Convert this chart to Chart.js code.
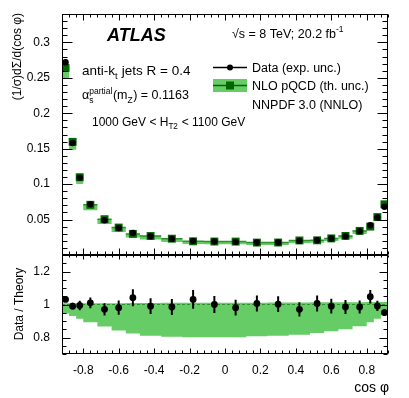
<!DOCTYPE html>
<html><head><meta charset="utf-8">
<script src="https://cdn.jsdelivr.net/npm/chart.js@4"></script>
<style>
html,body{margin:0;padding:0;background:#fff;}
#wrap{position:relative;width:409px;height:398px;}
canvas{position:absolute;left:0;top:0;}
</style></head><body>
<div id="wrap"><canvas id="top" width="409" height="398"></canvas><canvas id="bot" width="409" height="398"></canvas></div>
<script>
// ---------- data ----------
const binEdges = [-0.92,-0.88,-0.84,-0.80,-0.72,-0.64,-0.56,-0.48,-0.36,-0.24,-0.12,0,0.12,0.24,0.36,0.48,0.56,0.64,0.72,0.80,0.84,0.88,0.92];
const binCenters = [-0.90,-0.86,-0.82,-0.76,-0.68,-0.60,-0.52,-0.42,-0.30,-0.18,-0.06,0.06,0.18,0.30,0.42,0.52,0.60,0.68,0.76,0.82,0.86,0.90];
const dataValues = [0.272,0.158,0.109,0.0715,0.049,0.038,0.031,0.0265,0.0227,0.0199,0.019,0.0185,0.0176,0.0176,0.0199,0.0208,0.0232,0.0265,0.0335,0.042,0.053,0.068];
const dataErrors = [0.0044,0.0032,0.0032,0.0024,0.0018,0.0016,0.0016,0.0013,0.0011,0.0011,0.0010,0.0009,0.0009,0.0008,0.0009,0.0010,0.0010,0.0011,0.0013,0.0017,0.0016,0.0014];
const theoryValues = [0.2638,0.1596,0.1097,0.0708,0.0505,0.0387,0.0298,0.0268,0.0230,0.0193,0.0190,0.0189,0.0175,0.0176,0.0205,0.0207,0.0234,0.0269,0.0340,0.0401,0.0535,0.0715];
const theoryRelLow = [0.945,0.930,0.914,0.893,0.866,0.842,0.825,0.811,0.805,0.801,0.801,0.801,0.807,0.811,0.817,0.828,0.838,0.850,0.868,0.893,0.914,0.934];
const theoryRelHigh = [1.008,1.008,1.008,1.008,1.008,1.008,1.009,1.009,1.010,1.010,1.010,1.011,1.011,1.012,1.012,1.013,1.013,1.014,1.014,1.015,1.015,1.015];
const ratioValues = [1.031,0.990,0.994,1.010,0.971,0.981,1.041,0.990,0.985,1.031,1.000,0.981,1.006,1.002,0.971,1.006,0.990,0.985,0.985,1.047,0.991,0.951];
const ratioErrors = [0.016,0.020,0.029,0.033,0.037,0.043,0.051,0.048,0.049,0.057,0.051,0.048,0.049,0.048,0.043,0.049,0.045,0.043,0.039,0.041,0.031,0.020];
const xTickValues = [-0.8,-0.6,-0.4,-0.2,0,0.2,0.4,0.6,0.8];
const yTopTickValues = [0.05,0.1,0.15,0.2,0.25,0.3];
const yRatioTickValues = [0.8,1,1.2];

// ---------- style ----------
const FONT = "'Liberation Sans', Arial, Helvetica, sans-serif";
const GREEN_LIGHT = '#66cc66';
const GREEN_DARK = '#006600';
const GREEN_LINE = '#2f8f2f';
Chart.defaults.font.family = FONT;
Chart.defaults.color = '#000';

function stepPoints(vals){ return binEdges.map((e,i)=>({x:e, y: vals[Math.min(i, vals.length-1)]})); }
function binSegments(vals){
  const out = [];
  vals.forEach((v,i)=>{ out.push({x:binEdges[i], y:v}, {x:binEdges[i+1], y:v}, {x:binEdges[i+1], y:null}); });
  return out;
}
function pts(vals){ return binCenters.map((c,i)=>({x:c, y:vals[i]})); }

const topBandHigh = theoryValues.map((v,i)=>v*theoryRelHigh[i]);
const topBandLow = theoryValues.map((v,i)=>v*theoryRelLow[i]);

function axesPlugin(cfg){
  return { id:'rootAxes'+cfg.name, afterDatasetsDraw(chart){
    const ctx = chart.ctx, a = chart.chartArea, x = chart.scales.x, y = chart.scales.y;
    ctx.save();
    ctx.beginPath(); ctx.rect(a.left, a.top, a.right-a.left, a.bottom-a.top); ctx.clip();
    chart.data.datasets.forEach(ds=>{
      if(!ds.errors) return;
      ctx.strokeStyle = '#000'; ctx.lineWidth = 2; ctx.beginPath();
      ds.data.forEach((p,i)=>{
        const px = x.getPixelForValue(p.x);
        ctx.moveTo(px, y.getPixelForValue(p.y - ds.errors[i]));
        ctx.lineTo(px, y.getPixelForValue(p.y + ds.errors[i]));
      });
      ctx.stroke();
    });
    ctx.restore();
    ctx.save();
    ctx.strokeStyle = '#000'; ctx.lineWidth = 1; ctx.beginPath();
    const L = Math.round(a.left)+0.5, R = Math.round(a.right)-0.5, T = Math.round(a.top)+0.5, B = Math.round(a.bottom)-0.5;
    for(let k=-23;k<=23;k++){
      const v = k*0.04; const px = Math.round(x.getPixelForValue(v))+0.5;
      const maj = (k%5===0);
      const lb = maj?cfg.xb[0]:cfg.xb[1], lt = maj?cfg.xt[0]:cfg.xt[1];
      ctx.moveTo(px,B); ctx.lineTo(px,B-lb);
      ctx.moveTo(px,T); ctx.lineTo(px,T+lt);
    }
    for(let i=cfg.yi0;i<=cfg.yi1;i++){
      const v = i*cfg.yStep; const py = Math.round(y.getPixelForValue(v))+0.5;
      const maj = (i%cfg.yMajEvery===0);
      const l = maj?cfg.yl[0]:cfg.yl[1];
      ctx.moveTo(L,py); ctx.lineTo(L+l,py);
      ctx.moveTo(R,py); ctx.lineTo(R-l,py);
    }
    ctx.stroke();
    ctx.strokeRect(L, T, R-L, B-T);
    ctx.restore();
  }};
}

function rich(ctx, x, y, parts, size, weight){
  let cx = x; weight = weight||'';
  parts.forEach(p=>{
    if(typeof p === 'string'){
      ctx.font = weight+' '+size+'px '+FONT; ctx.fillText(p, cx, y); cx += ctx.measureText(p).width;
    } else {
      const s = size*0.68; ctx.font = s+'px '+FONT; let w = 0;
      if(p.sub){ ctx.fillText(p.sub, cx, y+size*0.28); w = Math.max(w, ctx.measureText(p.sub).width); }
      if(p.sup){ ctx.fillText(p.sup, cx, y-size*0.42); w = Math.max(w, ctx.measureText(p.sup).width); }
      cx += w + 0.5;
    }
  });
  return cx;
}

const textPlugin = { id:'texts', afterDraw(chart){
  const ctx = chart.ctx; ctx.save(); ctx.fillStyle = '#000'; ctx.textBaseline = 'alphabetic'; ctx.textAlign = 'left';
  ctx.font = 'italic bold 18px '+FONT; ctx.fillText('ATLAS', 107, 41);
  rich(ctx, 232, 37.5, ['\u221As = 8 TeV; 20.2 fb', {sup:'-1'}], 12.5);
  rich(ctx, 82, 75, ['anti-k', {sub:'t'}, ' jets R = 0.4'], 13.5);
  rich(ctx, 82, 99, ['\u03B1', {sub:'s', sup:'partial'}, '(m', {sub:'Z'}, ') = 0.1163'], 12.5);
  rich(ctx, 92, 125.5, ['1000 GeV < H', {sub:'T2'}, ' < 1100 GeV'], 12);
  // legend
  ctx.strokeStyle = '#000'; ctx.lineWidth = 1.5; ctx.beginPath(); ctx.moveTo(213, 67.5); ctx.lineTo(247, 67.5); ctx.stroke();
  ctx.beginPath(); ctx.arc(230, 67.5, 3, 0, Math.PI*2); ctx.fill();
  ctx.fillStyle = GREEN_LIGHT; ctx.fillRect(213, 79, 34, 13);
  ctx.strokeStyle = GREEN_DARK; ctx.lineWidth = 1.5; ctx.beginPath(); ctx.moveTo(213, 85.5); ctx.lineTo(247, 85.5); ctx.stroke();
  ctx.fillStyle = GREEN_DARK; ctx.fillRect(226, 81.5, 8, 8);
  ctx.fillStyle = '#000';
  rich(ctx, 252, 71.5, ['Data (exp. unc.)'], 12.5);
  rich(ctx, 252, 90, ['NLO pQCD (th. unc.)'], 12.5);
  rich(ctx, 252, 108.5, ['NNPDF 3.0 (NNLO)'], 12.5);
  // axis titles
  ctx.font = '12px '+FONT;
  ctx.save(); ctx.translate(21, 13); ctx.rotate(-Math.PI/2); ctx.textAlign='right'; ctx.fillText('(1/\u03C3)d\u03A3/d(cos \u03C6)', 0, 0); ctx.restore();
  ctx.save(); ctx.translate(23, 304); ctx.rotate(-Math.PI/2); ctx.textAlign='center'; ctx.fillText('Data / Theory', 0, 0); ctx.restore();
  ctx.font = '14px '+FONT; ctx.textAlign = 'right'; ctx.fillText('cos \u03C6', 389, 392);
  ctx.restore();
}};

function fmt(v){ return String(Math.round(v*100)/100); }

// ---------- top chart ----------
new Chart(document.getElementById('top'), {
  type:'line',
  data:{ datasets:[
    { data: pts(dataValues), errors: dataErrors, showLine:false, pointRadius:3.2, pointBackgroundColor:'#000', pointBorderWidth:0, order:0 },
    { data: pts(theoryValues), showLine:false, pointStyle:'rect', pointRadius:5.6, pointBackgroundColor:GREEN_DARK, pointBorderWidth:0, order:1 },
    { data: binSegments(theoryValues), spanGaps:false, borderColor:GREEN_LINE, borderWidth:1.5, pointRadius:0, fill:false, order:2 },
    { data: stepPoints(topBandHigh), stepped:true, borderWidth:0, pointRadius:0, fill:false, order:3 },
    { data: stepPoints(topBandLow), stepped:true, borderWidth:0, pointRadius:0, fill:'-1', backgroundColor:GREEN_LIGHT, order:4 }
  ]},
  options:{
    responsive:false, animation:false, devicePixelRatio:1,
    layout:{ padding:{ left:0, right:21, top:14, bottom:143 } },
    plugins:{ legend:{display:false}, tooltip:{enabled:false} },
    scales:{
      x:{ type:'linear', min:-0.92, max:0.92, display:false },
      y:{ type:'linear', min:0, max:0.34, grid:{display:false}, border:{display:false},
          afterBuildTicks: s=>{ s.ticks = yTopTickValues.map(v=>({value:v})); },
          afterFit: s=>{ s.width = 62; },
          ticks:{ font:{size:12}, padding:4, callback:v=>fmt(v) } }
    }
  },
  plugins:[ axesPlugin({name:'t', xb:[6,3], xt:[6,3], yi0:0, yi1:34, yStep:0.01, yMajEvery:5, yl:[10,5]}), textPlugin ]
});

// ---------- ratio chart ----------
new Chart(document.getElementById('bot'), {
  type:'line',
  data:{ datasets:[
    { data: pts(ratioValues), errors: ratioErrors, showLine:false, pointRadius:3.4, pointBackgroundColor:'#000', pointBorderWidth:0, order:0 },
    { data: [{x:-0.92,y:1},{x:0.92,y:1}], borderColor:GREEN_LINE, borderWidth:1, borderDash:[3,2], pointRadius:0, fill:false, order:1 },
    { data: stepPoints(theoryRelHigh), stepped:true, borderWidth:0, pointRadius:0, fill:false, order:3 },
    { data: stepPoints(theoryRelLow), stepped:true, borderWidth:0, pointRadius:0, fill:'-1', backgroundColor:GREEN_LIGHT, order:4 }
  ]},
  options:{
    responsive:false, animation:false, devicePixelRatio:1,
    layout:{ padding:{ left:0, right:21, top:255, bottom:0 } },
    plugins:{ legend:{display:false}, tooltip:{enabled:false} },
    scales:{
      x:{ type:'linear', min:-0.92, max:0.92, grid:{display:false}, border:{display:false},
          afterBuildTicks: s=>{ s.ticks = xTickValues.map(v=>({value:v})); },
          afterFit: s=>{ s.height = 44; },
          ticks:{ font:{size:12}, padding:1, maxRotation:0, autoSkip:false, callback:v=>fmt(v) } },
      y:{ type:'linear', min:0.7, max:1.3, grid:{display:false}, border:{display:false},
          afterBuildTicks: s=>{ s.ticks = yRatioTickValues.map(v=>({value:v})); },
          afterFit: s=>{ s.width = 62; },
          ticks:{ font:{size:12}, padding:4, callback:v=>fmt(v) } }
    }
  },
  plugins:[ axesPlugin({name:'b', xb:[5,3], xt:[4,2], yi0:14, yi1:26, yStep:0.05, yMajEvery:4, yl:[8,4]}) ]
});
</script>
</body></html>
